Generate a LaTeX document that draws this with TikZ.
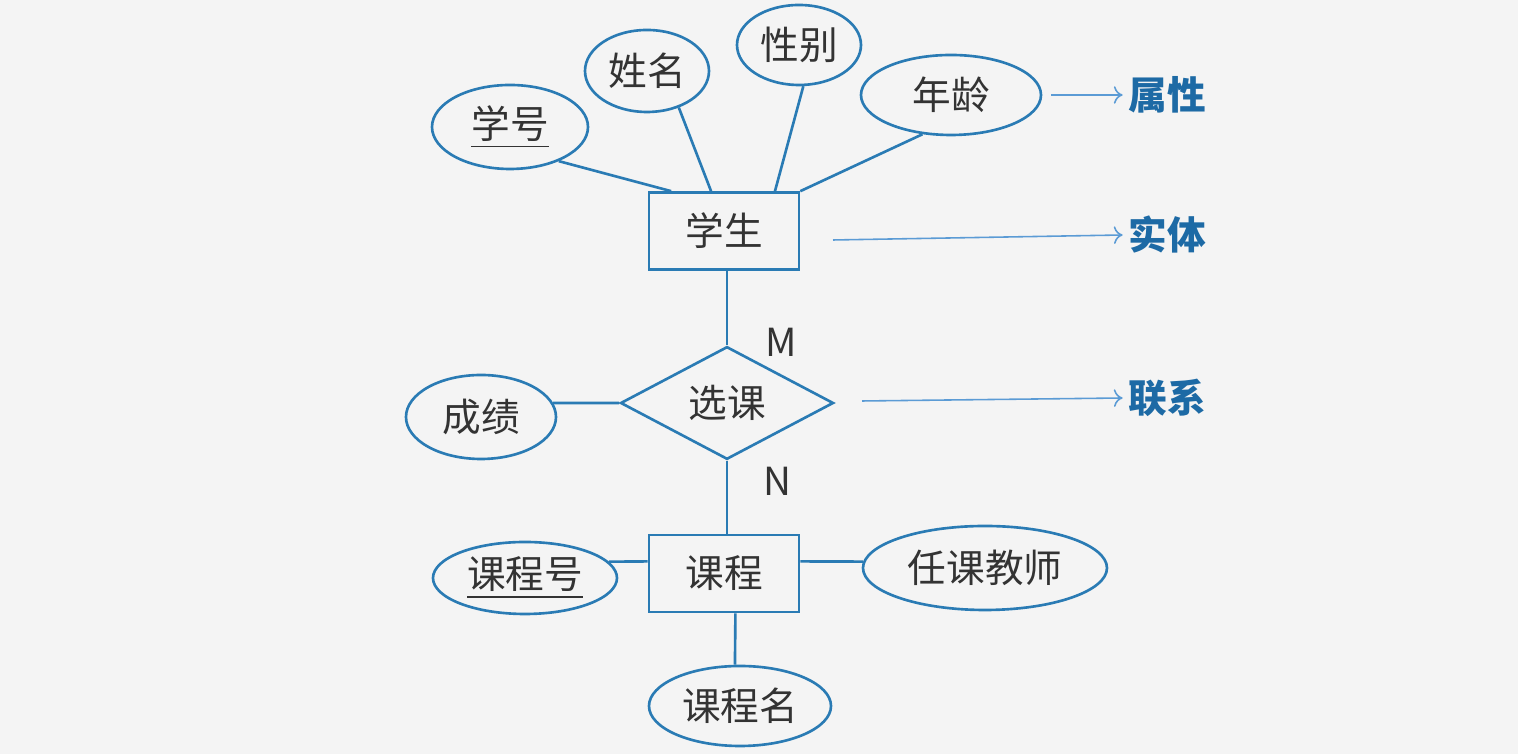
\documentclass[tikz,border=0pt]{standalone}
\usepackage{fontspec}
\newfontfamily\cjk{Noto Sans CJK SC}
\usetikzlibrary{shapes.geometric,arrows.meta}
\definecolor{erblue}{HTML}{2A7BB4}
\definecolor{notelink}{HTML}{5B9BD5}
\definecolor{notetext}{HTML}{1D6AA5}
\definecolor{ertext}{HTML}{333333}
\tikzset{
  attr/.style={draw=erblue, line width=0.75pt, ellipse, inner sep=0pt, text=ertext, font=\cjk\fontsize{11pt}{13pt}\selectfont},
  entity/.style={draw=erblue, line width=0.75pt, rectangle, inner sep=0pt, minimum width=1.5cm, minimum height=0.77cm, text=ertext, font=\cjk\fontsize{11pt}{13pt}\selectfont},
  relation/.style={draw=erblue, line width=0.75pt, diamond, inner sep=0pt, minimum width=2.13cm, minimum height=1.06cm, text=ertext, font=\cjk\fontsize{11pt}{13pt}\selectfont},
  link/.style={draw=erblue, line width=0.75pt},
  note/.style={text=notetext, inner sep=0.05cm, font=\cjk\bfseries\fontsize{11pt}{13pt}\selectfont},
  notearrow/.style={draw=notelink, line width=0.45pt, -{To[length=2.5pt,width=5pt]}}
}
\begin{document}
\begin{tikzpicture}
    \fill[gray!9] (0, 0) rectangle (15.18, 7.54);
    \useasboundingbox (0, 0) rectangle (15.18, 7.54);
    % entity student and its attributes
    \node[entity] (student) at (7.24, 5.23) {学生};
    \node[attr, minimum width=1.56cm, minimum height=0.84cm] (xuehao) at (5.10, 6.27) {\underline{学号}};
    \node[attr, minimum width=1.24cm, minimum height=0.82cm] (xingming) at (6.47, 6.83) {姓名};
    \node[attr, minimum width=1.24cm, minimum height=0.80cm] (xingbie) at (7.99, 7.09) {性别};
    \node[attr, minimum width=1.80cm, minimum height=0.80cm] (nianling) at (9.51, 6.59) {年龄};
    \draw[link] (xuehao.-35) -- (student.143);
    \draw[link] (xingming.-49) -- (student.108);
    \draw[link] (xingbie.-84) -- (student.38);
    \draw[link] (nianling.-126) -- (student.north east);
    % relationship
    \node[relation] (xuanke) at (7.27, 3.51) {选课};
    \node[attr, minimum width=1.50cm, minimum height=0.84cm] (chengji) at (4.81, 3.37) {成绩};
    \draw[link] (student.south -| xuanke.north) -- (xuanke.north);
    \draw[link] (chengji.11) -- (xuanke.west);
    \node[text=ertext, font=\cjk\fontsize{11pt}{13pt}\selectfont] (mlabel) at (7.81, 4.12) {M};
    \node[text=ertext, font=\cjk\fontsize{11pt}{13pt}\selectfont] (nlabel) at (7.77, 2.73) {N};
    % entity course and its attributes
    \node[entity] (course) at (7.24, 1.805) {课程};
    \node[attr, minimum width=1.84cm, minimum height=0.72cm] (kechenghao) at (5.25, 1.76) {\underline{课程号}};
    \node[attr, minimum width=2.44cm, minimum height=0.84cm] (teacher) at (9.85, 1.86) {任课教师};
    \node[attr, minimum width=1.82cm, minimum height=0.80cm] (kechengming) at (7.40, 0.48) {课程名};
    \draw[link] (xuanke.south) -- (course.north -| xuanke.south);
    \draw[link] (kechenghao.11) -- (course.171);
    \draw[link] (course.9) -- (teacher.177);
    \draw[link] (course.-74) -- (kechengming.97);
    % notes on the right
    \node[note] (shuxing) at (11.67, 6.59) {属性};
    \node[note] (shiti) at (11.67, 5.19) {实体};
    \node[note] (lianxi) at (11.67, 3.56) {联系};
    \coordinate (shitistart) at (8.33, 5.14);
    \coordinate (lianxistart) at (8.62, 3.53);
    \draw[notearrow, shorten <=0.09cm] (nianling.east) -- (shuxing.west);
    \draw[notearrow] (shitistart) -- (shiti.west);
    \draw[notearrow] (lianxistart) -- (lianxi.west);
\end{tikzpicture}
\end{document}
